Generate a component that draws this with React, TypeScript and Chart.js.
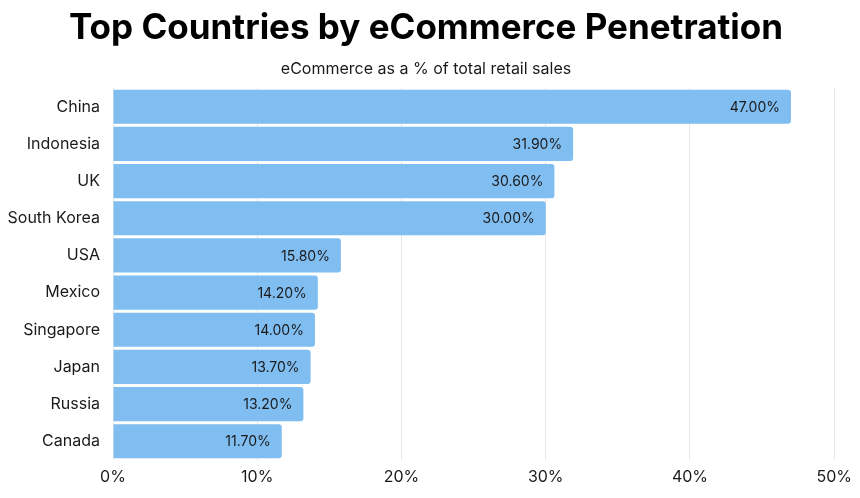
import React, { useEffect, useRef } from "react";
import { Chart, registerables } from "chart.js";

Chart.register(...registerables);

const categories = ["China", "Indonesia", "UK", "South Korea", "USA", "Mexico", "Singapore", "Japan", "Russia", "Canada"];
const values = [47.0, 31.9, 30.6, 30.0, 15.8, 14.2, 14.0, 13.7, 13.2, 11.7];
const xTicks = [0, 10, 20, 30, 40, 50];

const FONT = "Inter, 'Noto Sans', sans-serif";

const valueLabels = {
  id: "valueLabels",
  afterDatasetsDraw(chart: any) {
    const ctx = chart.ctx;
    const meta = chart.getDatasetMeta(0);
    ctx.save();
    ctx.font = `14px ${FONT}`;
    ctx.fillStyle = "#1a1a1a";
    ctx.textAlign = "right";
    ctx.textBaseline = "middle";
    meta.data.forEach((bar: any, i: number) => {
      ctx.fillText(values[i].toFixed(2) + "%", bar.x - 11, bar.y + 1);
    });
    ctx.restore();
  },
};

export default function App() {
  const ref = useRef<HTMLCanvasElement>(null);
  useEffect(() => {
    document.body.style.margin = "0";
    const chart = new Chart(ref.current!, {
      type: "bar",
      data: {
        labels: categories,
        datasets: [
          {
            data: values,
            backgroundColor: "#80bdf1",
            borderRadius: 3,
            borderSkipped: "start",
            barPercentage: 0.92,
            categoryPercentage: 1,
          },
        ],
      },
      options: {
        indexAxis: "y",
        animation: false,
        responsive: false,
        layout: { padding: { left: 0, right: 8, top: 0, bottom: 3 } },
        plugins: {
          legend: { display: false },
          tooltip: { enabled: false },
          title: {
            display: true,
            text: "Top Countries by eCommerce Penetration",
            color: "#000",
            font: { family: FONT, size: 35, weight: "bold" },
            padding: { top: 7, bottom: 11 },
          },
          subtitle: {
            display: true,
            text: "eCommerce as a % of total retail sales",
            color: "#1a1a1a",
            font: { family: FONT, size: 16 },
            padding: { top: 0, bottom: 9 },
          },
        },
        scales: {
          x: {
            min: 0,
            max: 50,
            afterBuildTicks: (axis: any) => {
              axis.ticks = xTicks.map((v) => ({ value: v }));
            },
            ticks: {
              callback: (v: any) => v + "%",
              color: "#1a1a1a",
              font: { family: FONT, size: 16 },
              padding: 8,
            },
            grid: { color: "#e6e6e6", drawTicks: false },
            border: { display: false },
          },
          y: {
            afterFit: (axis: any) => {
              axis.width = 113;
            },
            ticks: {
              color: "#1a1a1a",
              font: { family: FONT, size: 16 },
              padding: 13,
            },
            grid: { display: false, drawTicks: false },
            border: { display: false },
          },
        },
      },
      plugins: [valueLabels],
    });
    return () => chart.destroy();
  }, []);
  return <canvas ref={ref} width={860} height={498} style={{ display: "block" }} />;
}
